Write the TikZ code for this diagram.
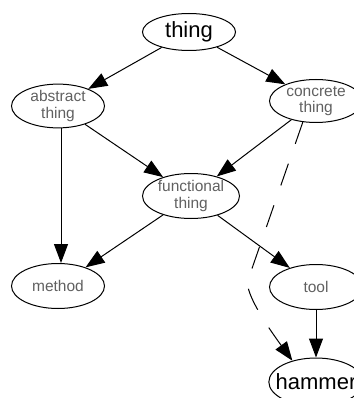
\documentclass[tikz,border=0pt]{standalone}
\usepackage{fontspec}
\setmainfont{Liberation Sans}
\usetikzlibrary{arrows.meta,shapes.geometric}
\definecolor{labelgray}{HTML}{606060}
\begin{document}
\begin{tikzpicture}[x=1pt,y=-1pt,
  concept/.style={draw, ellipse, line width=1pt, minimum width=93pt, minimum height=45pt,
    inner sep=0pt, align=center, text=labelgray, font=\fontsize{15.5}{16.5}\selectfont},
  keyconcept/.style={concept, text=black, font=\fontsize{22}{24}\selectfont},
  link/.style={line width=1pt, -{Triangle[length=19pt, width=14pt]}},
  shortcut/.style={link, dash pattern=on 23pt off 21pt}]
\useasboundingbox (0,0) rectangle (353,398);
\node[keyconcept, minimum height=37pt] (thing) at (189,32) {thing};
\node[concept, minimum height=43pt] (abstract) at (58,106) {abstract\\thing};
\node[concept, minimum height=43pt] (concrete) at (316,101) {concrete\\thing};
\node[concept, minimum width=97pt] (functional) at (191,196) {functional\\thing};
\node[concept] (method) at (58,286) {method};
\node[concept] (tool) at (316,287) {tool};
\node[keyconcept, minimum height=48pt, inner xsep=-7pt] (hammer) at (316,382) {hammer};

\draw[link] (thing) -- (abstract);
\draw[link] (thing) -- (concrete);
\draw[link] (abstract) -- (functional);
\draw[link] (concrete) -- (functional);
\draw[link] ([xshift=3pt]abstract.south) -- ([xshift=3pt]method.north);
\draw[link] (functional) -- (method);
\draw[link] (functional) -- (tool);
\draw[link] (tool) -- (hammer);
\draw[shortcut] (concrete.-122) -- (248,280) .. controls (244,293) and (270,330) .. (hammer.138);
\end{tikzpicture}
\end{document}
